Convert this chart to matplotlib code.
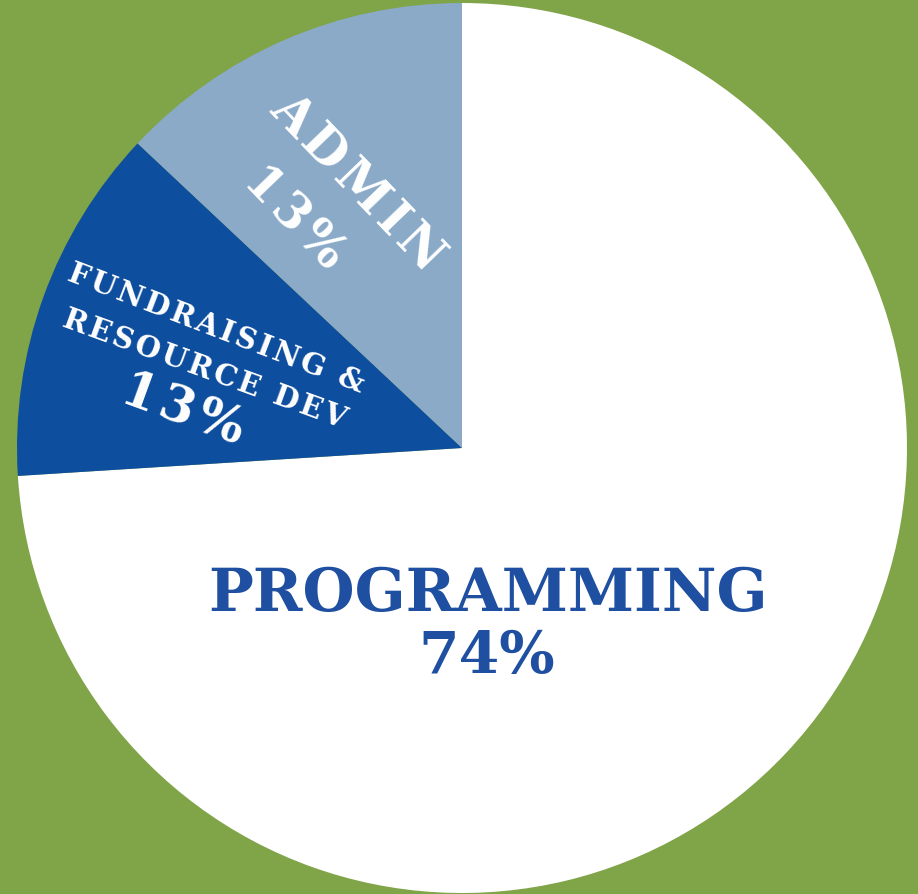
import matplotlib
matplotlib.use("Agg")
import matplotlib.pyplot as plt

# Budget split
labels = ["PROGRAMMING", "FUNDRAISING &\nRESOURCE DEV", "ADMIN"]
shares = [74, 13, 13]
colors = ["#FFFFFF", "#0E4E9E", "#8AAAC8"]
bg = "#80A448"

W, H = 918, 895
fig = plt.figure(figsize=(W / 100, H / 100), dpi=100, facecolor=bg)
ax = fig.add_axes([0, 0, 1, 1])
ax.set_facecolor(bg)

ax.pie(shares, colors=colors, startangle=90, counterclock=False,
       center=(462, H - 449), radius=445,
       wedgeprops=dict(linewidth=0))
ax.set_xlim(0, W)
ax.set_ylim(0, H)
ax.set_aspect("equal")
ax.axis("off")

font = dict(family=["DejaVu Serif", "DejaVu Sans"], weight="bold")


def y(v):
    return H - v


def spaced(s):
    # letter spacing with hair spaces
    return "\u200a".join(s)


# Programming
ax.text(488, y(594), labels[0], color="#1F4FA0", fontsize=43,
        ha="center", va="center", **font)
ax.text(487, y(657), f"{shares[0]}%", color="#1F4FA0", fontsize=42,
        ha="center", va="center", **font)

# Fundraising
line1, line2 = labels[1].split("\n")
ax.text(216, y(329), spaced(line1), color="white", fontsize=21, ha="center",
        va="center", rotation=-21, rotation_mode="anchor", **font)
ax.text(205, y(369), spaced(line2), color="white", fontsize=21, ha="center",
        va="center", rotation=-20, rotation_mode="anchor", **font)
ax.text(183, y(411), spaced(f"{shares[1]}%"), color="white", fontsize=36,
        ha="center", va="center", rotation=-20, rotation_mode="anchor", **font)

# Admin
ax.text(357, y(183), spaced(labels[2]), color="white", fontsize=36,
        ha="center", va="center", rotation=-46, rotation_mode="anchor", **font)
ax.text(294, y(218), spaced(f"{shares[2]}%"), color="white", fontsize=35,
        ha="center", va="center", rotation=-46, rotation_mode="anchor", **font)

fig.savefig("out.png", dpi=100, facecolor=bg)
